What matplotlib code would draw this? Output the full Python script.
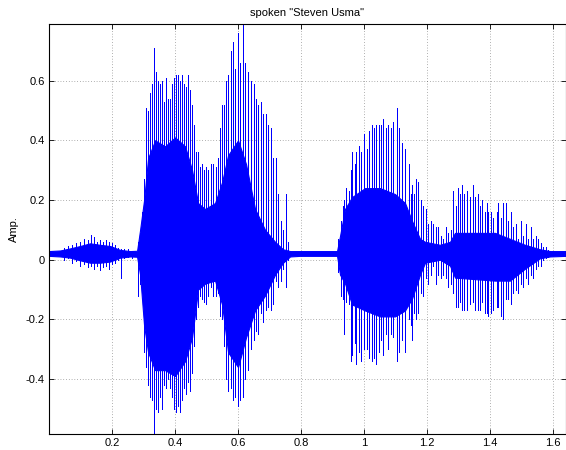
import matplotlib
matplotlib.use("Agg")
import matplotlib.pyplot as plt

plt.rcParams['font.family'] = ['Liberation Sans', 'DejaVu Sans']
plt.rcParams['axes.unicode_minus'] = False

# Dense body of the waveform: time (s), upper and lower amplitude
band_t = [0.000, 0.0352, 0.0670, 0.0987, 0.1305, 0.1622, 0.1940, 0.2257, 0.2575, 0.2797,
          0.2892, 0.3019, 0.3146, 0.3369, 0.3686, 0.4003, 0.4321, 0.4543, 0.4733, 0.4956,
          0.5273, 0.5495, 0.5686, 0.6003, 0.6257, 0.6543, 0.6860, 0.7178, 0.7432, 0.7654,
          0.7972, 0.9146, 0.9241, 0.9400, 0.9622, 1.0035, 1.0511, 1.0987, 1.1305, 1.1527,
          1.1781, 1.1940, 1.2416, 1.2733, 1.2892, 1.4162, 1.4638, 1.5114, 1.5590, 1.5908,
          1.6416]
band_hi = [0.029, 0.031, 0.038, 0.046, 0.055, 0.050, 0.046, 0.033, 0.029, 0.030,
           0.10, 0.20, 0.34, 0.40, 0.38, 0.41, 0.38, 0.30, 0.19, 0.17,
           0.19, 0.26, 0.35, 0.40, 0.32, 0.17, 0.10, 0.06, 0.035, 0.029,
           0.029, 0.029, 0.08, 0.17, 0.21, 0.24, 0.24, 0.22, 0.19, 0.13,
           0.07, 0.06, 0.05, 0.06, 0.09, 0.09, 0.07, 0.05, 0.035, 0.029,
           0.029]
band_lo = [0.013, 0.011, 0.007, -0.002, -0.010, -0.010, -0.006, 0.007, 0.011, 0.010,
           -0.05, -0.22, -0.31, -0.37, -0.37, -0.39, -0.34, -0.26, -0.10, -0.08,
           -0.07, -0.15, -0.31, -0.36, -0.26, -0.17, -0.12, -0.05, -0.01, 0.011,
           0.013, 0.013, -0.05, -0.08, -0.15, -0.17, -0.19, -0.19, -0.17, -0.13,
           -0.05, -0.01, 0.00, -0.02, -0.06, -0.07, -0.07, -0.03, 0.005, 0.011,
           0.013]

# Individual excursions (noise bursts and pitch pulses): time (s), peak, trough
pulse_t = [
    0.0479, 0.0606, 0.0733, 0.0860, 0.0987, 0.1114, 0.1241, 0.1337, 0.1432, 0.1527,
    0.1622, 0.1717, 0.1813, 0.1908, 0.2003, 0.2098, 0.2194, 0.2289, 0.2384, 0.2511,
    0.2638,
    0.2829, 0.2892, 0.2956, 0.3019, 0.3083, 0.3146, 0.3210, 0.3273, 0.3337, 0.3400,
    0.3464, 0.3527, 0.3591, 0.3654, 0.3718, 0.3781, 0.3845, 0.3908, 0.3972, 0.4035,
    0.4098, 0.4162, 0.4225, 0.4289, 0.4352, 0.4416, 0.4479, 0.4543, 0.4606, 0.4670,
    0.4733, 0.4797, 0.4860, 0.4924, 0.4987, 0.5051, 0.5146, 0.5210, 0.5305, 0.5368,
    0.5432, 0.5495, 0.5559, 0.5622, 0.5686, 0.5781, 0.5845, 0.5908, 0.6003, 0.6067,
    0.6162, 0.6225, 0.6321, 0.6416, 0.6511, 0.6575, 0.6638, 0.6733, 0.6797, 0.6892,
    0.6956, 0.7051, 0.7114, 0.7210, 0.7273, 0.7368, 0.7432, 0.7527, 0.7590,
    0.9187, 0.9273, 0.9327, 0.9368, 0.9422, 0.9517, 0.9581, 0.9632, 0.9708, 0.9759,
    0.9835, 0.9908, 1.0003, 1.0089, 1.0171, 1.0248, 1.0311, 1.0384, 1.0470, 1.0543,
    1.0616, 1.0702, 1.0775, 1.0851, 1.0933, 1.1041, 1.1124, 1.1210, 1.1305, 1.1432,
    1.1495, 1.1537, 1.1600, 1.1654, 1.1727, 1.1813, 1.1886, 1.1971, 1.2044, 1.2130,
    1.2203, 1.2279, 1.2362, 1.2448, 1.2521, 1.2597, 1.2679, 1.2755, 1.2838, 1.2914,
    1.2978, 1.3051, 1.3105, 1.3187, 1.3263, 1.3368, 1.3454, 1.3527, 1.3613, 1.3686,
    1.3759, 1.3845, 1.3898, 1.3949, 1.4025, 1.4108, 1.4216, 1.4267, 1.4343, 1.4406,
    1.4511, 1.4584, 1.4670, 1.4743, 1.4819, 1.4902, 1.4978, 1.5060, 1.5136, 1.5219,
    1.5295, 1.5378, 1.5464, 1.5537, 1.5613, 1.5695, 1.5781, 1.5854,
]
pulse_hi = [
    0.040, 0.045, 0.050, 0.055, 0.060, 0.070, 0.065, 0.083, 0.075, 0.060,
    0.065, 0.060, 0.065, 0.060, 0.055, 0.050, 0.040, 0.035, 0.035, 0.035,
    0.030,
    0.06, 0.09, 0.16, 0.27, 0.51, 0.50, 0.56, 0.59, 0.71, 0.63,
    0.60, 0.59, 0.60, 0.53, 0.61, 0.54, 0.54, 0.59, 0.61, 0.62,
    0.62, 0.60, 0.62, 0.59, 0.58, 0.62, 0.57, 0.52, 0.45, 0.36,
    0.36, 0.31, 0.32, 0.30, 0.31, 0.30, 0.32, 0.32, 0.31, 0.34,
    0.44, 0.52, 0.52, 0.60, 0.62, 0.70, 0.73, 0.64, 0.76, 0.66,
    0.79, 0.66, 0.63, 0.60, 0.59, 0.54, 0.52, 0.53, 0.49, 0.49,
    0.45, 0.44, 0.34, 0.34, 0.22, 0.13, 0.10, 0.22, 0.06,
    0.07, 0.13, 0.18, 0.20, 0.24, 0.23, 0.30, 0.36, 0.32, 0.36,
    0.38, 0.36, 0.42, 0.37, 0.43, 0.45, 0.44, 0.45, 0.45, 0.45,
    0.47, 0.44, 0.45, 0.44, 0.46, 0.51, 0.44, 0.39, 0.37, 0.32,
    0.22, 0.25, 0.22, 0.27, 0.26, 0.20, 0.18, 0.17, 0.12, 0.13,
    0.12, 0.11, 0.11, 0.08, 0.07, 0.11, 0.09, 0.10, 0.23, 0.18,
    0.24, 0.22, 0.25, 0.22, 0.23, 0.21, 0.25, 0.21, 0.22, 0.18,
    0.20, 0.16, 0.19, 0.16, 0.16, 0.14, 0.16, 0.19, 0.14, 0.19,
    0.19, 0.13, 0.16, 0.11, 0.12, 0.07, 0.13, 0.08, 0.12, 0.07,
    0.11, 0.07, 0.08, 0.07, 0.055, 0.044, 0.044, 0.033,
]
pulse_lo = [
    0.000, 0.005, -0.010, -0.005, -0.020, -0.015, -0.025, -0.020, -0.030, -0.020,
    -0.035, -0.025, -0.020, -0.030, -0.015, -0.010, 0.000, -0.062, 0.005, 0.010,
    0.005,
    -0.12, -0.08, -0.09, -0.31, -0.36, -0.42, -0.46, -0.47, -0.58, -0.50,
    -0.51, -0.46, -0.50, -0.42, -0.43, -0.40, -0.43, -0.46, -0.50, -0.51,
    -0.49, -0.51, -0.47, -0.43, -0.45, -0.41, -0.44, -0.38, -0.29, -0.20,
    -0.16, -0.12, -0.13, -0.14, -0.15, -0.12, -0.09, -0.12, -0.12, -0.11,
    -0.19, -0.20, -0.29, -0.40, -0.44, -0.43, -0.47, -0.46, -0.49, -0.47,
    -0.46, -0.40, -0.37, -0.30, -0.27, -0.24, -0.25, -0.18, -0.21, -0.17,
    -0.16, -0.17, -0.15, -0.07, -0.09, -0.07, -0.03, -0.09, 0.00,
    -0.04, -0.12, -0.13, -0.25, -0.14, -0.15, -0.34, -0.32, -0.28, -0.35,
    -0.31, -0.34, -0.30, -0.30, -0.33, -0.34, -0.33, -0.35, -0.31, -0.27,
    -0.32, -0.25, -0.30, -0.25, -0.26, -0.34, -0.31, -0.27, -0.31, -0.20,
    -0.22, -0.27, -0.18, -0.20, -0.18, -0.11, -0.12, -0.06, -0.08, -0.05,
    -0.02, -0.08, -0.05, -0.06, -0.05, -0.06, -0.09, -0.08, -0.11, -0.16,
    -0.16, -0.14, -0.17, -0.17, -0.17, -0.15, -0.14, -0.17, -0.17, -0.17,
    -0.14, -0.18, -0.18, -0.19, -0.18, -0.17, -0.16, -0.16, -0.19, -0.20,
    -0.13, -0.13, -0.15, -0.11, -0.10, -0.11, -0.08, -0.09, -0.06, -0.08,
    -0.05, -0.06, -0.03, -0.02, -0.02, 0.000, 0.005, 0.010,
]

x_ticks = [0.2, 0.4, 0.6, 0.8, 1.0, 1.2, 1.4, 1.6]
x_tick_labels = ['0.2', '0.4', '0.6', '0.8', '1', '1.2', '1.4', '1.6']
y_ticks = [-0.4, -0.2, 0.0, 0.2, 0.4, 0.6]
y_tick_labels = ['-0.4', '-0.2', '0', '0.2', '0.4', '0.6']

fig = plt.figure(figsize=(5.66, 4.5), dpi=100)
ax = fig.add_axes([49 / 566, 16 / 450, 517 / 566, 410 / 450])

ax.fill_between(band_t, band_lo, band_hi, color='#0000ff', linewidth=0.8, zorder=3)
ax.vlines(pulse_t, pulse_lo, pulse_hi, color='#0000ff', linewidth=0.72,
          antialiased=False, zorder=3)

ax.set_xlim(0, 1.6416)
ax.set_ylim(-0.584, 0.790)
ax.set_xticks(x_ticks)
ax.set_xticklabels(x_tick_labels)
ax.set_yticks(y_ticks)
ax.set_yticklabels(y_tick_labels)

ax.grid(True, color='black', linestyle=(0, (1, 3)), linewidth=0.5, alpha=0.6, zorder=1)
ax.set_axisbelow(True)
ax.tick_params(direction='in', top=True, right=True, length=3.5, width=0.6,
               labelsize=8, pad=3, colors='black')
for s in ax.spines.values():
    s.set_linewidth(0.8)
    s.set_zorder(5)

ax.set_title('spoken "Steven Usma"', fontsize=8, pad=6)
ax.set_ylabel('Amp.', fontsize=8, labelpad=5)

fig.savefig('out.png', dpi=100)
